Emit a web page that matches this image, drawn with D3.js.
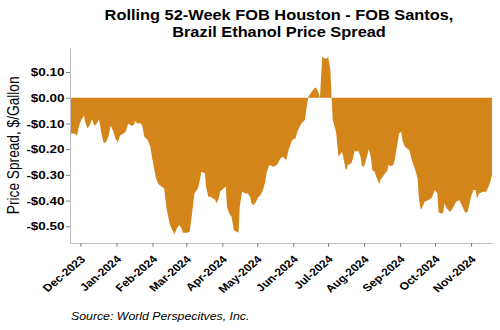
<!DOCTYPE html>
<html>
<head>
<meta charset="utf-8">
<script src="https://cdn.jsdelivr.net/npm/d3@7"></script>
<style>
  body { margin: 0; background: #fff; }
  svg { display: block; font-family: Arial, "Liberation Sans", sans-serif; }
</style>
</head>
<body>
<svg id="chart" width="500" height="330"></svg>
<script>
// chart data
const titleLines = ["Rolling 52-Week FOB Houston - FOB Santos,", "Brazil Ethanol Price Spread"];
const yTitle = "Price Spread, $/Gallon";
const source = "Source: World Perspecitves, Inc.";

const dates = [
  "2023-11-22","2023-11-26","2023-11-28","2023-11-30","2023-12-02","2023-12-04","2023-12-05","2023-12-07",
  "2023-12-09","2023-12-11","2023-12-13","2023-12-15","2023-12-17","2023-12-19","2023-12-21","2023-12-23",
  "2023-12-25","2023-12-27","2023-12-29","2023-12-31","2024-01-02","2024-01-04","2024-01-07","2024-01-09",
  "2024-01-11","2024-01-14","2024-01-16","2024-01-17","2024-01-19","2024-01-21","2024-01-23","2024-01-25",
  "2024-01-28","2024-01-30","2024-02-01","2024-02-04","2024-02-06","2024-02-09","2024-02-11","2024-02-13",
  "2024-02-16","2024-02-18","2024-02-20","2024-02-22","2024-02-24","2024-02-26","2024-02-27","2024-03-02",
  "2024-03-04","2024-03-06","2024-03-08","2024-03-11","2024-03-13","2024-03-14","2024-03-17","2024-03-18",
  "2024-03-20","2024-03-22","2024-03-26","2024-03-27","2024-03-29","2024-03-30","2024-04-02","2024-04-04",
  "2024-04-05","2024-04-07","2024-04-09","2024-04-11","2024-04-13","2024-04-15","2024-04-16","2024-04-18",
  "2024-04-21","2024-04-23","2024-04-25","2024-04-26","2024-04-28","2024-04-30","2024-05-02","2024-05-03",
  "2024-05-06","2024-05-08","2024-05-09","2024-05-11","2024-05-12","2024-05-15","2024-05-18","2024-05-21",
  "2024-05-23","2024-05-26","2024-05-28","2024-05-31","2024-06-03","2024-06-05","2024-06-08","2024-06-11",
  "2024-06-13","2024-06-14","2024-06-16","2024-06-18","2024-06-20","2024-06-21","2024-06-23","2024-06-24",
  "2024-06-25","2024-06-26","2024-06-28","2024-06-30","2024-07-01","2024-07-03","2024-07-04","2024-07-05",
  "2024-07-07","2024-07-08","2024-07-10","2024-07-11","2024-07-13","2024-07-14","2024-07-16","2024-07-17",
  "2024-07-18","2024-07-21","2024-07-22","2024-07-24","2024-07-25","2024-07-27","2024-07-29","2024-07-30",
  "2024-08-01","2024-08-03","2024-08-05","2024-08-07","2024-08-08","2024-08-10","2024-08-12","2024-08-14",
  "2024-08-15","2024-08-17","2024-08-19","2024-08-21","2024-08-22","2024-08-24","2024-08-26","2024-08-27",
  "2024-08-30","2024-08-31","2024-09-02","2024-09-03","2024-09-05","2024-09-07","2024-09-09","2024-09-11",
  "2024-09-14","2024-09-16","2024-09-17","2024-09-18","2024-09-19","2024-09-22","2024-09-25","2024-09-28",
  "2024-10-01","2024-10-03","2024-10-04","2024-10-06","2024-10-08","2024-10-09","2024-10-11","2024-10-14",
  "2024-10-17","2024-10-19","2024-10-22","2024-10-24","2024-10-27","2024-10-29","2024-11-01","2024-11-03",
  "2024-11-05","2024-11-06","2024-11-08","2024-11-11","2024-11-14","2024-11-16","2024-11-18","2024-11-19"
];

const spread = [
  -0.140,-0.139,-0.148,-0.106,-0.084,-0.070,-0.093,-0.120,
  -0.106,-0.084,-0.110,-0.100,-0.084,-0.139,-0.178,-0.171,
  -0.152,-0.109,-0.128,-0.158,-0.174,-0.148,-0.139,-0.132,
  -0.100,-0.109,-0.106,-0.090,-0.100,-0.098,-0.106,-0.152,
  -0.165,-0.190,-0.243,-0.314,-0.336,-0.346,-0.353,-0.430,
  -0.495,-0.515,-0.530,-0.508,-0.495,-0.508,-0.525,-0.525,
  -0.520,-0.450,-0.372,-0.353,-0.314,-0.288,-0.294,-0.346,
  -0.385,-0.385,-0.398,-0.411,-0.392,-0.366,-0.353,-0.346,
  -0.424,-0.450,-0.463,-0.515,-0.520,-0.525,-0.424,-0.366,
  -0.372,-0.372,-0.385,-0.411,-0.418,-0.405,-0.385,-0.385,
  -0.359,-0.327,-0.294,-0.266,-0.262,-0.268,-0.262,-0.236,
  -0.230,-0.242,-0.204,-0.165,-0.158,-0.126,-0.100,-0.087,
  -0.022,0.004,0.017,0.030,0.040,0.037,0.017,-0.002,
  0.082,0.160,0.153,0.153,0.160,0.108,0.004,-0.087,
  -0.119,-0.139,-0.230,-0.223,-0.210,-0.230,-0.275,-0.281,
  -0.262,-0.255,-0.242,-0.204,-0.210,-0.206,-0.230,-0.266,
  -0.266,-0.236,-0.200,-0.236,-0.281,-0.288,-0.314,-0.336,
  -0.320,-0.307,-0.294,-0.284,-0.262,-0.266,-0.262,-0.249,
  -0.171,-0.139,-0.132,-0.165,-0.190,-0.197,-0.204,-0.242,
  -0.281,-0.314,-0.385,-0.418,-0.437,-0.405,-0.399,-0.390,
  -0.359,-0.372,-0.444,-0.450,-0.448,-0.411,-0.430,-0.444,
  -0.424,-0.405,-0.399,-0.418,-0.447,-0.444,-0.385,-0.359,
  -0.359,-0.392,-0.372,-0.366,-0.366,-0.346,-0.320,-0.300
];

const yTicks = [0.1, 0, -0.1, -0.2, -0.3, -0.4, -0.5];
const xStart = "2023-11-22";
const xEnd = "2024-11-19";
const yDomain = [-0.565, 0.195];

const parse = d3.utcParse("%Y-%m-%d");
const data = dates.map((d, i) => ({ date: parse(d), value: spread[i] }));

const svg = d3.select("#chart");
const plot = { left: 70, right: 492, top: 47.6, bottom: 243 };
const stretch = 1.17; // the reference glyphs are drawn wide

const x = d3.scaleUtc()
    .domain([parse(xStart), parse(xEnd)])
    .range([plot.left, plot.right]);

const y = d3.scaleLinear()
    .domain(yDomain)
    .range([plot.bottom, plot.top]);

const area = d3.area()
    .x(d => x(d.date))
    .y0(y(0))
    .y1(d => y(d.value));

svg.append("path")
    .datum(data)
    .attr("fill", "#d3851a")
    .attr("d", area);

const fmtMoney = v => (v < -1e-9 ? "-" : "") + "$" + Math.abs(v).toFixed(2);

// y axis
svg.append("g")
    .attr("transform", `translate(${plot.left},0)`)
    .call(d3.axisLeft(y).tickValues(yTicks).tickFormat(fmtMoney).tickSize(4).tickSizeOuter(0))
    .call(g => g.select(".domain").attr("stroke", "#bfbfbf"))
    .call(g => g.selectAll(".tick line").attr("stroke", "#7f7f7f"))
    .call(g => g.selectAll("text")
        .attr("fill", "#000")
        .attr("x", null)
        .attr("transform", `translate(-5.5,0) scale(${stretch},1)`)
        .style("font", "bold 11.5px Arial, 'Liberation Sans', sans-serif"));

// x axis
const monthTicks = d3.utcMonth.range(parse("2023-12-01"), parse("2024-11-02"));
svg.append("g")
    .attr("transform", `translate(0,${plot.bottom})`)
    .call(d3.axisBottom(x).tickValues(monthTicks).tickFormat(d3.utcFormat("%b-%Y")).tickSize(4).tickSizeOuter(0))
    .call(g => g.select(".domain").attr("stroke", "#bfbfbf"))
    .call(g => g.selectAll(".tick line").attr("stroke", "#7f7f7f"))
    .call(g => g.selectAll("text")
        .attr("fill", "#000")
        .attr("text-anchor", "end")
        .attr("dy", null)
        .attr("y", null)
        .attr("transform", `translate(5,17) scale(${stretch},1) rotate(-45)`)
        .style("font", "bold 10.5px Arial, 'Liberation Sans', sans-serif"));

// titles
svg.append("g")
    .attr("text-anchor", "middle")
    .style("font", "bold 14px Arial, 'Liberation Sans', sans-serif")
    .selectAll("text")
    .data(titleLines)
    .join("text")
    .attr("transform", (d, i) => `translate(279,${20 + i * 17}) scale(${stretch},1)`)
    .text(d => d);

svg.append("text")
    .attr("transform", `translate(19,${(plot.top + plot.bottom) / 2}) scale(${stretch},1) rotate(-90)`)
    .attr("text-anchor", "middle")
    .style("font", "13.7px Arial, 'Liberation Sans', sans-serif")
    .text(yTitle);

svg.append("text")
    .attr("transform", `translate(71,320) scale(1.12,1)`)
    .style("font", "italic 11px Arial, 'Liberation Sans', sans-serif")
    .text(source);
</script>
</body>
</html>
